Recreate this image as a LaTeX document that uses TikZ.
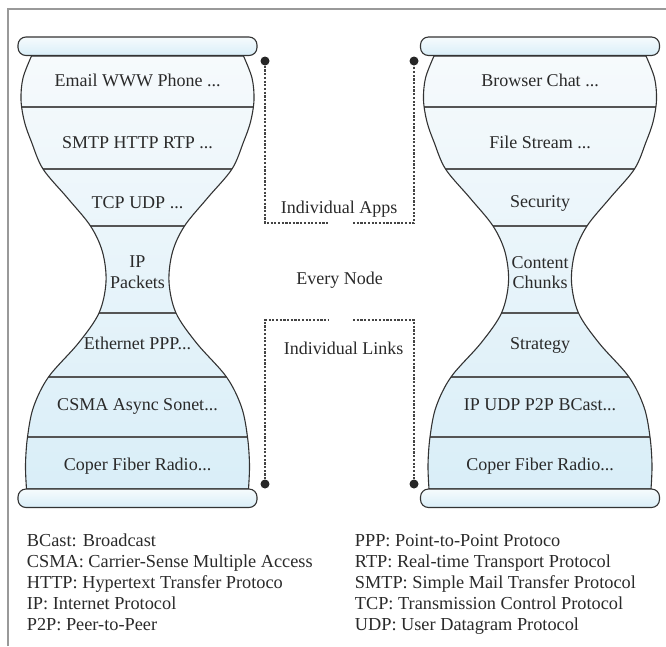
\documentclass[tikz,border=0pt]{standalone}
\usepackage{fontspec}
\setmainfont{Liberation Serif}
\definecolor{outl}{HTML}{333333}
\definecolor{divl}{HTML}{555555}
\definecolor{topc}{HTML}{F6FAFC}
\definecolor{botc}{HTML}{D9EEF8}
\definecolor{captop}{HTML}{F6FBFD}
\definecolor{capbot}{HTML}{D9EEF8}
\definecolor{txt}{HTML}{2A2A2A}
\definecolor{framec}{HTML}{999999}
\definecolor{dashc}{HTML}{444444}
\tikzset{
  hgshape/.style={insert path={plot[smooth,tension=0.55] coordinates {(-106,56) (-114.5,78) (-116.5,100) (-113,122) (-106,142) (-94.5,169) (-70,198) (-47,226) (-35,252) (-31.5,282) (-38.5,313) (-59,343) (-89,377) (-104,407) (-110,437) (-112,465) (-111,489)} -- plot[smooth,tension=0.55] coordinates {(111,489) (112,465) (110,437) (104,407) (89,377) (59,343) (38.5,313) (31.5,282) (35,252) (47,226) (70,198) (94.5,169) (106,142) (113,122) (116.5,100) (114.5,78) (106,56)} -- cycle}},
  outline/.style={draw=outl, line width=1.1pt},
  divider/.style={draw=divl, line width=1.1pt},
  capbox/.style={draw=outl, line width=1.1pt, rounded corners=8pt, top color=captop, bottom color=capbot},
  lbl/.style={inner sep=0pt, anchor=base, text=txt, font=\fontsize{18}{21}\selectfont},
  leg/.style={inner sep=0pt, anchor=base west, text=txt, font=\fontsize{18.3}{21}\selectfont},
  dotnode/.style={circle, fill=black!85, inner sep=0pt, minimum size=9pt},
  dotline/.style={draw=dashc, line width=1.1pt, dash pattern=on 2.2pt off 1.5pt},
  framel/.style={draw=framec, line width=1.3pt},
}
\newcommand\hourglassbody{%
  \shade[top color=topc, bottom color=botc, hgshape];
  \begin{scope}
    \clip[hgshape];
    \foreach \yy in {107,169,226,313,377,437} \draw[divider] (-130,\yy) -- (130,\yy);
  \end{scope}
  \path[outline, hgshape];
  \path[capbox] (-119.5,37) rectangle (119.5,55.5);
  \path[capbox] (-119.5,489) rectangle (119.5,507.5);
}
\begin{document}
\begin{tikzpicture}[x=1pt,y=-1pt]
\useasboundingbox (0,0) rectangle (666,646);
\draw[framel] (8,646) -- (8,9) -- (666,9);

\begin{scope}[shift={(137.5,0)}]
  \hourglassbody
\end{scope}
\begin{scope}[shift={(540,0)}]
  \hourglassbody
\end{scope}

% left hourglass labels
\node[lbl] (l1) at (137.5,86) {Email WWW Phone ...};
\node[lbl] (l2) at (137.5,148) {SMTP HTTP RTP ...};
\node[lbl] (l3) at (137.5,208) {TCP UDP ...};
\node[lbl] (l4a) at (137.5,267) {IP};
\node[lbl] (l4b) at (137.5,288) {Packets};
\node[lbl] (l5) at (137.5,349) {Ethernet PPP...};
\node[lbl] (l6) at (137.5,410) {CSMA Async Sonet...};
\node[lbl] (l7) at (137.5,470) {Coper Fiber Radio...};

% right hourglass labels
\node[lbl] (r1) at (540,86) {Browser Chat ...};
\node[lbl] (r2) at (540,148) {File Stream ...};
\node[lbl] (r3) at (540,207) {Security};
\node[lbl] (r4a) at (540,268) {Content};
\node[lbl] (r4b) at (540,288) {Chunks};
\node[lbl] (r5) at (540,349) {Strategy};
\node[lbl] (r6) at (540,410) {IP UDP P2P BCast...};
\node[lbl] (r7) at (540,470) {Coper Fiber Radio...};

% middle labels
\node[lbl] (apps) at (339,213) {Individual Apps};
\node[lbl] (every) at (339.5,284) {Every Node};
\node[lbl] (links) at (343.5,354) {Individual Links};

% brackets
\node[dotnode] (dA) at (265,61) {};
\node[dotnode] (dB) at (414,61) {};
\node[dotnode] (dC) at (265,484) {};
\node[dotnode] (dD) at (414,484) {};
\coordinate (a1) at (265,223);
\coordinate (a2) at (328,223);
\coordinate (a3) at (353,223);
\coordinate (a4) at (414,223);
\coordinate (b1) at (265,320);
\coordinate (b2) at (328,320);
\coordinate (b3) at (353,320);
\coordinate (b4) at (414,320);
\draw[dotline] (dA) -- (a1) -- (a2);
\draw[dotline] (a3) -- (a4) -- (dB);
\draw[dotline] (dC) -- (b1) -- (b2);
\draw[dotline] (b3) -- (b4) -- (dD);

% legend
\node[leg] (g1) at (26.7,546) {BCast: Broadcast};
\node[leg] (g2) at (26.7,567.2) {CSMA: Carrier-Sense Multiple Access};
\node[leg] (g3) at (26.7,588.4) {HTTP: Hypertext Transfer Protoco};
\node[leg] (g4) at (26.7,609.6) {IP: Internet Protocol};
\node[leg] (g5) at (26.7,630.8) {P2P: Peer-to-Peer};
\node[leg] (g6) at (354.7,546) {PPP: Point-to-Point Protoco};
\node[leg] (g7) at (354.7,567.2) {RTP: Real-time Transport Protocol};
\node[leg] (g8) at (354.7,588.4) {SMTP: Simple Mail Transfer Protocol};
\node[leg] (g9) at (354.7,609.6) {TCP: Transmission Control Protocol};
\node[leg] (g10) at (354.7,630.8) {UDP: User Datagram Protocol};
\end{tikzpicture}
\end{document}
